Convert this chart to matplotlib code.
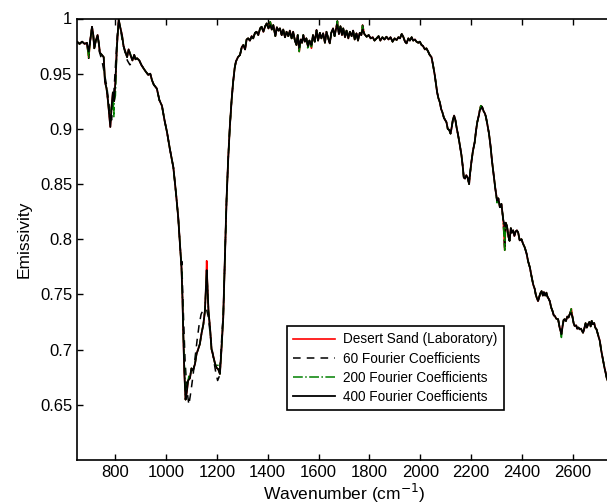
import matplotlib
matplotlib.use("Agg")
import matplotlib.pyplot as plt

plt.rcParams['font.family'] = ['Liberation Sans', 'DejaVu Sans']

# %% data
wavenumber = [
    650, 660, 670, 680, 689, 696, 702, 709, 714, 718, 724, 731, 736, 740, 748, 755, 760, 766, 772, 776,
    781, 786, 791, 796, 801, 807, 814, 820, 827, 833, 840, 847, 853, 860, 868, 875, 880, 886, 895, 903,
    912, 920, 930, 938, 945, 952, 964, 974, 984, 994, 1004, 1015, 1029, 1040, 1048, 1055, 1061, 1065, 1068, 1072,
    1077, 1082, 1087, 1094, 1100, 1106, 1114, 1120, 1126, 1133, 1140, 1147, 1153, 1157, 1160, 1163, 1167, 1173, 1179, 1185,
    1192, 1199, 1206, 1212, 1218, 1225, 1232, 1238, 1245, 1251, 1258, 1264, 1270, 1275, 1283, 1291, 1298, 1304, 1311, 1317,
    1323, 1330, 1337, 1343, 1350, 1356, 1363, 1370, 1376, 1383, 1390, 1396, 1403, 1410, 1416, 1422, 1430, 1436, 1442, 1448,
    1455, 1461, 1468, 1474, 1481, 1487, 1494, 1500, 1507, 1513, 1518, 1524, 1530, 1535, 1540, 1546, 1552, 1558, 1564, 1572,
    1578, 1585, 1592, 1598, 1605, 1611, 1618, 1625, 1631, 1638, 1644, 1650, 1657, 1663, 1668, 1674, 1680, 1686, 1692, 1697,
    1704, 1710, 1717, 1723, 1730, 1736, 1742, 1749, 1755, 1762, 1768, 1773, 1780, 1789, 1797, 1805, 1813, 1820, 1828, 1836,
    1843, 1851, 1859, 1867, 1875, 1883, 1891, 1899, 1907, 1914, 1920, 1927, 1933, 1940, 1946, 1953, 1959, 1966, 1972, 1979,
    1985, 1992, 1998, 2005, 2011, 2018, 2024, 2031, 2037, 2044, 2050, 2057, 2062, 2066, 2071, 2077, 2082, 2087, 2093, 2098,
    2103, 2108, 2114, 2119, 2124, 2128, 2133, 2138, 2143, 2149, 2155, 2162, 2167, 2171, 2176, 2181, 2186, 2192, 2196, 2201,
    2207, 2214, 2219, 2224, 2230, 2234, 2238, 2243, 2249, 2254, 2258, 2263, 2270, 2276, 2282, 2289, 2295, 2302, 2307, 2313,
    2319, 2326, 2332, 2336, 2341, 2346, 2351, 2356, 2360, 2365, 2370, 2375, 2380, 2385, 2391, 2398, 2404, 2411, 2418, 2424,
    2431, 2437, 2444, 2450, 2454, 2458, 2463, 2468, 2472, 2477, 2482, 2486, 2491, 2496, 2500, 2505, 2509, 2515, 2520, 2525,
    2529, 2535, 2542, 2548, 2555, 2560, 2564, 2568, 2573, 2578, 2583, 2589, 2594, 2599, 2603, 2607, 2613, 2617, 2622, 2627,
    2632, 2636, 2640, 2645, 2650, 2655, 2660, 2665, 2670, 2674, 2679, 2684, 2688, 2693, 2697, 2702, 2706, 2711, 2715, 2719,
    2724, 2728, 2733, 2740,
]
emis_lab = [
    0.979, 0.977, 0.979, 0.977, 0.978, 0.964, 0.980, 0.9925, 0.985, 0.973, 0.980, 0.985, 0.977, 0.969, 0.967, 0.965, 0.9425, 0.937, 0.925, 0.915,
    0.9017, 0.920, 0.933, 0.925, 0.9425, 0.975, 0.999, 0.992, 0.985, 0.975, 0.970, 0.965, 0.972, 0.967, 0.962, 0.967, 0.963, 0.964, 0.962, 0.958,
    0.9547, 0.952, 0.949, 0.950, 0.944, 0.940, 0.9365, 0.926, 0.921, 0.908, 0.897, 0.882, 0.865, 0.840, 0.820, 0.795, 0.774, 0.745, 0.714, 0.680,
    0.6547, 0.662, 0.672, 0.674, 0.683, 0.681, 0.687, 0.696, 0.700, 0.705, 0.715, 0.723, 0.735, 0.755, 0.7805, 0.758, 0.735, 0.720, 0.7005, 0.695,
    0.688, 0.6835, 0.682, 0.678, 0.700, 0.729, 0.785, 0.835, 0.875, 0.9017, 0.926, 0.9425, 0.955, 0.961, 0.965, 0.967, 0.974, 0.976, 0.972, 0.981,
    0.982, 0.980, 0.984, 0.982, 0.987, 0.988, 0.985, 0.991, 0.9925, 0.988, 0.993, 0.9955, 0.991, 0.997, 0.990, 0.994, 0.984, 0.992, 0.989, 0.991,
    0.985, 0.990, 0.983, 0.988, 0.984, 0.989, 0.982, 0.988, 0.980, 0.976, 0.985, 0.970, 0.981, 0.978, 0.985, 0.979, 0.982, 0.975, 0.980, 0.973,
    0.985, 0.979, 0.9895, 0.980, 0.987, 0.982, 0.9865, 0.978, 0.988, 0.982, 0.9775, 0.987, 0.991, 0.984, 0.990, 0.9977, 0.986, 0.993, 0.985, 0.991,
    0.983, 0.989, 0.982, 0.988, 0.984, 0.989, 0.981, 0.9865, 0.980, 0.987, 0.985, 0.994, 0.986, 0.9835, 0.985, 0.982, 0.983, 0.980, 0.982, 0.984,
    0.980, 0.983, 0.981, 0.9835, 0.981, 0.983, 0.979, 0.982, 0.9805, 0.983, 0.982, 0.986, 0.9835, 0.979, 0.9775, 0.982, 0.980, 0.983, 0.980, 0.981,
    0.979, 0.978, 0.979, 0.976, 0.975, 0.972, 0.973, 0.970, 0.967, 0.965, 0.958, 0.9486, 0.940, 0.9335, 0.928, 0.924, 0.918, 0.915, 0.910, 0.908,
    0.906, 0.900, 0.899, 0.8957, 0.902, 0.908, 0.912, 0.908, 0.901, 0.894, 0.886, 0.876, 0.866, 0.856, 0.855, 0.858, 0.856, 0.850, 0.860, 0.870,
    0.880, 0.888, 0.898, 0.906, 0.912, 0.917, 0.921, 0.920, 0.916, 0.914, 0.911, 0.905, 0.896, 0.885, 0.871, 0.8577, 0.846, 0.835, 0.837, 0.829,
    0.832, 0.818, 0.790, 0.815, 0.812, 0.803, 0.7986, 0.810, 0.806, 0.808, 0.803, 0.807, 0.808, 0.806, 0.799, 0.800, 0.796, 0.7925, 0.787, 0.780,
    0.7744, 0.767, 0.759, 0.755, 0.750, 0.747, 0.744, 0.748, 0.751, 0.753, 0.749, 0.752, 0.749, 0.7516, 0.748, 0.746, 0.744, 0.738, 0.735, 0.731,
    0.7305, 0.728, 0.7275, 0.720, 0.714, 0.722, 0.727, 0.7275, 0.726, 0.730, 0.729, 0.733, 0.737, 0.729, 0.724, 0.7214, 0.722, 0.719, 0.720, 0.7184,
    0.719, 0.717, 0.7153, 0.719, 0.724, 0.720, 0.723, 0.725, 0.721, 0.726, 0.723, 0.724, 0.720, 0.7184, 0.715, 0.711, 0.708, 0.700, 0.695, 0.6895,
    0.684, 0.680, 0.6744, 0.670,
]

# 60 coefficients: smoother reconstruction in the two absorption bands
fc60_band1_wn = [738, 748, 758, 766, 774, 780, 786, 792, 800, 808, 814, 820, 828, 838, 848, 858, 868]
fc60_band1_em = [0.970, 0.962, 0.950, 0.940, 0.926, 0.912, 0.908, 0.922, 0.952, 0.984, 0.996, 0.992, 0.980, 0.970, 0.962, 0.958, 0.961]
fc60_band2_wn = [1062, 1068, 1075, 1082, 1090, 1098, 1106, 1114, 1122, 1130, 1138, 1146, 1154, 1160, 1166, 1173, 1180, 1188, 1196, 1203, 1210, 1216, 1222]
fc60_band2_em = [0.780, 0.735, 0.690, 0.664, 0.650, 0.662, 0.676, 0.692, 0.708, 0.722, 0.732, 0.736, 0.737, 0.736, 0.730, 0.716, 0.702, 0.690, 0.679, 0.672, 0.676, 0.698, 0.722]

# 200 coefficients: points where the green curve shows apart from the others
fc200_diff = {781: 0.906, 788: 0.918, 795: 0.911, 801: 0.930, 860: 0.968, 1072: 0.688,
              1082: 0.666, 1090: 0.676, 1160: 0.770, 1204: 0.686, 1311: 0.975, 1558: 0.972,
              2555: 0.711, 2302: 0.833, 2370: 0.805}

# 400 coefficients: follows the lab spectrum but misses the sharpest spikes
fc400_diff = {696: 0.970, 1160: 0.772, 1410: 0.994, 1524: 0.974, 1572: 0.976,
              1674: 0.994, 1773: 0.990, 2238: 0.918, 2332: 0.812, 2594: 0.733}

labels = ["Desert Sand (Laboratory)", "60 Fourier Coefficients",
          "200 Fourier Coefficients", "400 Fourier Coefficients"]


def with_changes(changes):
    d = dict(zip(wavenumber, emis_lab))
    d.update(changes)
    keys = sorted(d)
    return keys, [d[k] for k in keys]


def with_bands(bands):
    d = {w: e for w, e in zip(wavenumber, emis_lab)
         if not any(bw[0] <= w <= bw[-1] for bw, be in bands)}
    for bw, be in bands:
        d.update(zip(bw, be))
    keys = sorted(d)
    return keys, [d[k] for k in keys]


wn60, em60 = with_bands([(fc60_band1_wn, fc60_band1_em), (fc60_band2_wn, fc60_band2_em)])
wn200, em200 = with_changes(fc200_diff)
wn400, em400 = with_changes(fc400_diff)

# %% plot
fig = plt.figure(figsize=(6.07, 5.04), dpi=100)
ax = fig.add_axes([77 / 607, 44 / 504, 534 / 607, 441.5 / 504])

ax.plot(wavenumber, emis_lab, color="red", lw=1.2, label=labels[0])
ax.plot(wn60, em60, color="black", lw=1.1, ls=(0, (5, 4)), label=labels[1])
ax.plot(wn200, em200, color="#008000", lw=1.1, ls="-.", label=labels[2])
ax.plot(wn400, em400, color="black", lw=1.3, label=labels[3])

ax.set_xlim(650, 2750)
ax.set_ylim(0.6, 1.0)
ax.set_xticks(range(800, 2601, 200))
ax.set_yticks([0.65, 0.7, 0.75, 0.8, 0.85, 0.9, 0.95, 1.0])
ax.set_yticklabels(["0.65", "0.7", "0.75", "0.8", "0.85", "0.9", "0.95", "1"])
ax.tick_params(direction="in", top=True, right=False, length=4, width=1, labelsize=12)
for s in ax.spines.values():
    s.set_linewidth(1.2)

ax.set_xlabel("Wavenumber (cm$^{-1}$)", fontsize=12.5, labelpad=1.5)
ax.set_ylabel("Emissivity", fontsize=12.5, labelpad=6)

leg = ax.legend(loc="lower left", bbox_to_anchor=(0.393, 0.113), borderaxespad=0,
                fontsize=9.8, fancybox=False, edgecolor="black", framealpha=1,
                handlelength=3.1, handletextpad=0.6, labelspacing=0.38, borderpad=0.45)
leg.get_frame().set_linewidth(1.2)

fig.savefig("out.png", dpi=100)
